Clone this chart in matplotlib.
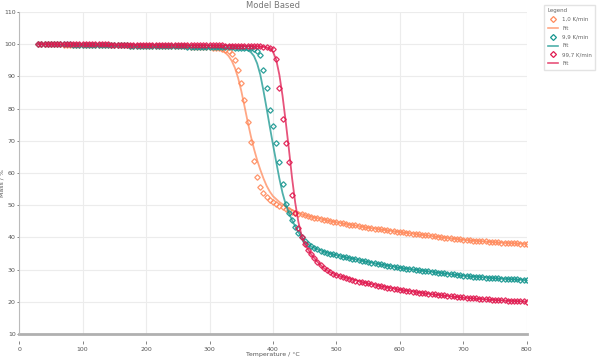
import numpy as np
import matplotlib.pyplot as plt
from matplotlib.lines import Line2D

# measured points, one every 5 degC from 30 to 800 degC
temp = np.arange(30, 805, 5)

mass_1k = [
    100.0, 100.0, 100.0, 99.9, 99.9, 99.9, 99.9, 99.9, 99.8, 99.8,
    99.8, 99.8, 99.8, 99.8, 99.8, 99.7, 99.7, 99.7, 99.7, 99.7,
    99.7, 99.7, 99.6, 99.6, 99.6, 99.6, 99.6, 99.6, 99.6, 99.5,
    99.5, 99.5, 99.5, 99.5, 99.5, 99.5, 99.4, 99.4, 99.4, 99.4,
    99.4, 99.4, 99.4, 99.3, 99.3, 99.3, 99.3, 99.3, 99.2, 99.2,
    99.2, 99.2, 99.1, 99.1, 99.0, 98.9, 98.8, 98.7, 98.5, 98.2,
    98.0, 97.0, 95.0, 92.0, 87.8, 82.5, 75.8, 69.6, 63.6, 58.7,
    55.8, 53.9, 52.6, 51.7, 51.0, 50.4, 49.8, 49.3, 48.9, 48.5,
    48.0, 47.7, 47.4, 47.15, 46.9, 46.65, 46.4, 46.15, 45.9, 45.7,
    45.5, 45.3, 45.1, 44.9, 44.7, 44.5, 44.35, 44.2, 44.0, 43.85,
    43.7, 43.5, 43.35, 43.2, 43.05, 42.9, 42.75, 42.6, 42.5, 42.35,
    42.2, 42.1, 41.95, 41.8, 41.7, 41.55, 41.45, 41.3, 41.2, 41.1,
    40.95, 40.85, 40.7, 40.6, 40.45, 40.35, 40.2, 40.1, 39.95, 39.85,
    39.7, 39.6, 39.5, 39.4, 39.3, 39.2, 39.1, 39.0, 38.95, 38.9,
    38.8, 38.75, 38.65, 38.6, 38.5, 38.45, 38.4, 38.35, 38.3, 38.25,
    38.2, 38.15, 38.1, 38.05, 38.0]

mass_10k = [
    100.0, 100.0, 100.0, 100.0, 99.9, 99.9, 99.9, 99.9, 99.9, 99.9,
    99.9, 99.8, 99.8, 99.8, 99.8, 99.8, 99.8, 99.7, 99.7, 99.7,
    99.7, 99.7, 99.7, 99.6, 99.6, 99.6, 99.6, 99.6, 99.6, 99.5,
    99.5, 99.5, 99.5, 99.5, 99.5, 99.4, 99.4, 99.4, 99.4, 99.4,
    99.4, 99.3, 99.3, 99.3, 99.3, 99.3, 99.3, 99.2, 99.2, 99.2,
    99.2, 99.2, 99.2, 99.1, 99.1, 99.1, 99.1, 99.1, 99.0, 99.0,
    99.0, 99.0, 98.9, 98.9, 98.9, 98.8, 98.8, 98.7, 98.5, 98.0,
    96.6, 92.0, 86.5, 79.5, 74.5, 69.3, 63.5, 56.5, 50.5, 47.5,
    45.3, 43.3, 41.5, 40.0, 38.8, 37.9, 37.2, 36.7, 36.3, 35.9,
    35.6, 35.3, 35.0, 34.75, 34.5, 34.25, 34.05, 33.8, 33.6, 33.4,
    33.2, 33.0, 32.8, 32.6, 32.4, 32.2, 32.0, 31.8, 31.6, 31.4,
    31.25, 31.1, 30.9, 30.75, 30.6, 30.45, 30.35, 30.2, 30.1, 29.95,
    29.85, 29.7, 29.6, 29.45, 29.35, 29.2, 29.1, 28.95, 28.85, 28.7,
    28.6, 28.5, 28.35, 28.25, 28.15, 28.05, 27.95, 27.85, 27.8, 27.7,
    27.65, 27.55, 27.5, 27.4, 27.35, 27.3, 27.2, 27.15, 27.1, 27.05,
    27.0, 26.95, 26.9, 26.85, 26.8]

mass_100k = [
    100.0, 100.0, 100.0, 100.0, 100.0, 99.9, 99.9, 99.9, 99.9, 99.9,
    99.9, 99.9, 99.9, 99.9, 99.9, 99.9, 99.9, 99.9, 99.9, 99.9,
    99.9, 99.9, 99.9, 99.8, 99.8, 99.8, 99.8, 99.8, 99.8, 99.8,
    99.8, 99.8, 99.8, 99.8, 99.8, 99.7, 99.7, 99.7, 99.7, 99.7,
    99.7, 99.7, 99.7, 99.7, 99.7, 99.7, 99.7, 99.7, 99.7, 99.7,
    99.7, 99.7, 99.6, 99.6, 99.6, 99.6, 99.6, 99.6, 99.6, 99.5,
    99.5, 99.5, 99.5, 99.5, 99.5, 99.4, 99.4, 99.4, 99.4, 99.3,
    99.3, 99.2, 99.0, 98.9, 98.4, 95.5, 86.3, 76.8, 69.3, 63.5,
    53.2, 47.5, 43.0, 40.0, 37.9, 36.2, 34.8, 33.5, 32.3, 31.4,
    30.5, 29.8, 29.2, 28.7, 28.3, 27.95, 27.65, 27.35, 27.05, 26.8,
    26.55, 26.3, 26.1, 25.9, 25.7, 25.5, 25.25, 25.05, 24.85, 24.65,
    24.45, 24.3, 24.1, 23.95, 23.8, 23.65, 23.5, 23.35, 23.2, 23.05,
    22.9, 22.8, 22.65, 22.55, 22.4, 22.3, 22.2, 22.1, 22.0, 21.9,
    21.8, 21.7, 21.6, 21.5, 21.4, 21.3, 21.25, 21.15, 21.05, 21.0,
    20.9, 20.85, 20.8, 20.7, 20.65, 20.6, 20.5, 20.45, 20.4, 20.35,
    20.3, 20.25, 20.2, 20.15, 20.1]

# model fits
fit_t_1k = [30, 100, 200, 250, 300, 310, 320, 325, 330, 335, 340, 345, 350, 355, 360,
            365, 370, 375, 380, 385, 390, 395, 400, 410, 420, 430, 450, 500, 550, 600,
            650, 700, 750, 800]
fit_1k = [100.0, 99.6, 99.2, 99.0, 98.8, 98.6, 98.0, 97.3, 96.3, 94.8, 92.6, 89.5, 85.5, 80.8, 76.0,
          71.5, 67.5, 64.0, 61.0, 58.3, 56.0, 54.2, 52.8, 51.0, 49.6, 48.5, 46.9, 44.7, 43.05, 41.7,
          40.45, 39.3, 38.5, 38.0]

fit_t_10k = [30, 100, 200, 300, 340, 350, 355, 360, 365, 370, 375, 380, 385, 390, 395, 400,
             405, 410, 415, 420, 425, 430, 435, 440, 450, 460, 470, 480, 500, 550, 600, 650,
             700, 750, 800]
fit_10k = [100.0, 99.5, 99.1, 98.8, 98.7, 98.6, 98.4, 98.1, 97.5, 96.3, 94.0, 90.5, 85.5, 80.0, 74.3, 68.8,
           63.5, 58.3, 53.8, 50.3, 47.6, 45.4, 43.4, 41.6, 38.8, 37.2, 36.3, 35.6, 34.5, 32.4, 30.6, 29.35,
           28.15, 27.35, 26.8]

fit_t_100k = [30, 100, 200, 300, 350, 380, 390, 395, 400, 405, 410, 415, 420, 425, 430, 435,
              440, 445, 450, 460, 470, 480, 490, 500, 550, 600, 650, 700, 750, 800]
fit_100k = [100.0, 99.9, 99.7, 99.6, 99.5, 99.3, 99.0, 98.6, 97.6, 95.2, 90.5, 84.0, 76.0, 67.5, 58.5, 50.8,
            44.8, 40.6, 37.9, 34.8, 32.4, 30.5, 29.2, 28.3, 25.7, 23.8, 22.4, 21.3, 20.6, 20.1]

labels = ['1,0 K/min', '9,9 K/min', '99,7 K/min']
colors = ['#ff8a5c', '#16968f', '#e0194f']

xticks = [0, 100, 200, 300, 400, 500, 600, 700, 800]
yticks = [10, 20, 30, 40, 50, 60, 70, 80, 90, 100, 110]

fig = plt.figure(figsize=(6, 3.6), dpi=100)
ax = fig.add_axes([0.032, 0.072, 0.846, 0.895])

series = [(mass_1k, fit_t_1k, fit_1k), (mass_10k, fit_t_10k, fit_10k), (mass_100k, fit_t_100k, fit_100k)]
handles = []
names = []
for (m, ft, fm), c, lab in zip(series, colors, labels):
    ax.plot(temp, m, linestyle='none', marker='D', markersize=2.8, mfc='none', mec=c, mew=0.9, alpha=0.9)
    ax.plot(ft, fm, color=c, lw=1.3, alpha=0.75)
    handles.append(Line2D([], [], linestyle='none', marker='D', markersize=3.0, mfc='none', mec=c, mew=0.9))
    handles.append(Line2D([], [], color=c, lw=1.2, alpha=0.75))
    names += [lab, 'Fit']

ax.set_xlim(0, 800)
ax.set_ylim(10, 110)
ax.set_xticks(xticks)
ax.set_yticks(yticks)
ax.grid(True, color='#ececec', lw=0.8)
ax.set_axisbelow(True)
for s in ['top', 'right']:
    ax.spines[s].set_visible(False)
ax.spines['left'].set_color('#bbbbbb')
ax.spines['bottom'].set_position(('outward', 5))
ax.spines['bottom'].set_visible(False)
ax.axhline(ax.get_ylim()[0], color='#b0b0b0', lw=2, clip_on=False)
ax.tick_params(axis='both', labelsize=4.5, colors='#555555', length=2, width=0.5)
ax.tick_params(axis='x', pad=2)
ax.tick_params(axis='y', pad=1, length=1.5)

ax.set_title('Model Based', fontsize=6, color='#777777', pad=3)
ax.set_xlabel('Temperature / °C', fontsize=4.5, color='#555555')
ax.set_ylabel('Mass / %', fontsize=4.5, color='#555555')
ax.xaxis.set_label_coords(0.5, -0.055)
ax.yaxis.set_label_coords(-0.029, 0.47)

leg = fig.legend(handles, names, loc='upper right', bbox_to_anchor=(0.997, 0.995),
                 title='Legend', fontsize=4, title_fontsize=4, frameon=True,
                 fancybox=False, edgecolor='#dddddd', handlelength=1.8,
                 labelspacing=0.7, alignment='left', borderpad=0.6)
for t in leg.get_texts():
    t.set_color('#666666')
leg.get_title().set_color('#666666')

fig.savefig('out.png', dpi=100)
